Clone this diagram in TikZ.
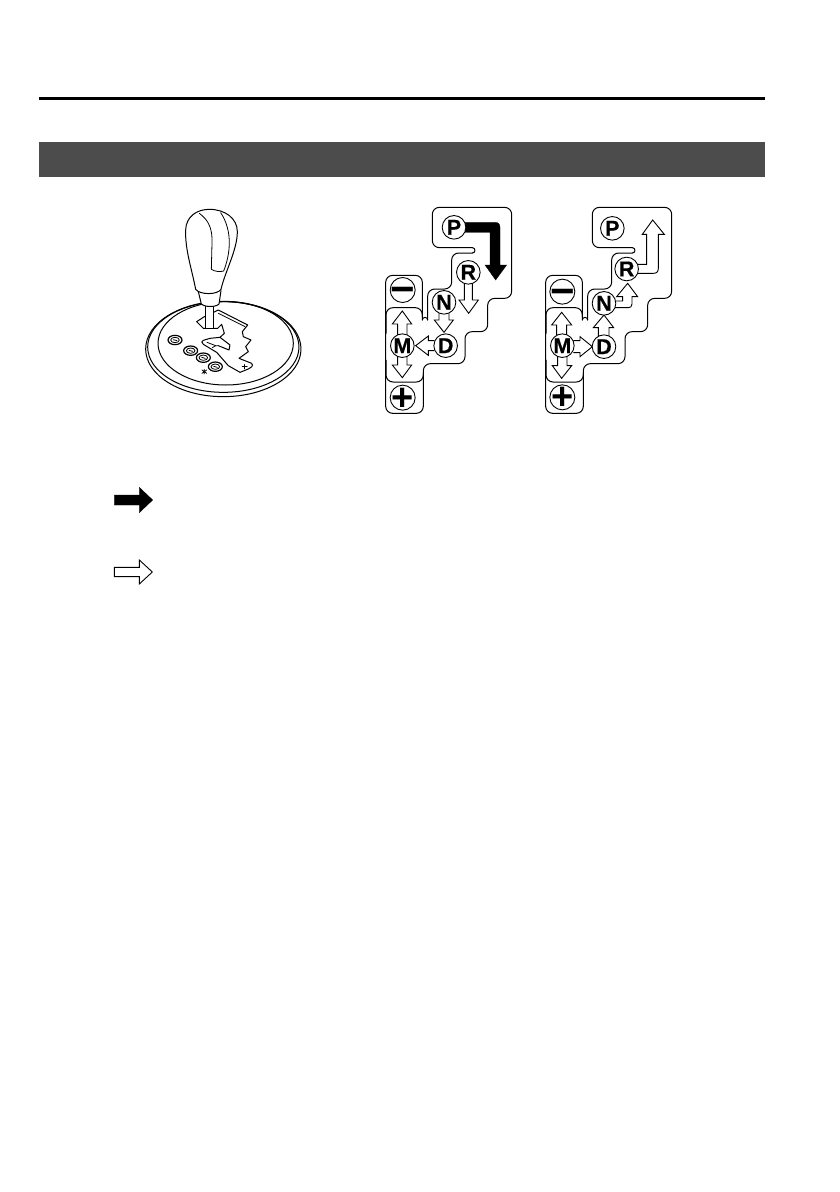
\documentclass[tikz,border=0pt]{standalone}
\usepackage{fontspec}
\setmainfont{Liberation Sans}
\newfontfamily\gatefont{Liberation Sans}[UprightFont=* Bold,FakeBold=0.5]
\tikzset{
  line/.style={draw=black,line width=1pt,line join=round,line cap=round},
  fine/.style={draw=black,line width=0.8pt,line join=round,line cap=round},
  hollow/.style={draw=black,fill=white,line width=0.9pt,line join=miter},
  solidarrow/.style={draw=black,fill=black,line width=0.3pt,line join=miter},
  zoomed/.style={x=0.33333pt,y=-0.33333pt},
  gatecircle/.style={circle,draw=black,fill=white,line width=0.9pt,minimum size=23.6pt,inner sep=0pt,font=\gatefont\fontsize{21.5}{21.5}\selectfont},
  symcircle/.style={circle,draw=black,fill=white,line width=0.9pt,minimum size=25pt,inner sep=0pt},
}
\newcommand{\gateoutline}{%
  \draw[line,rounded corners=7pt] (280,22) -- (410,22) -- (410,295) -- (338,295) -- (338,395) -- (270,395) -- (270,491) -- (145,491) -- (145,640) -- (32,640) -- (32,226) -- (142,226) -- (142,360);
  \draw[line] (142,360) arc[start angle=180,end angle=360,radius=8];
  \draw[line,rounded corners=7pt] (158,360) -- (158,267) -- (230,267) -- (230,159) -- (292,159);
  \draw[line] (292,159) arc[start angle=90,end angle=-90,radius=8];
  \draw[line,rounded corners=7pt] (292,143) -- (172,143) -- (172,22) -- (280,22);
  \draw[line,rounded corners=7pt] (33,400) -- (33,323) -- (142,323) -- (142,350);
  \draw[line,rounded corners=7pt] (33,480) -- (33,546) -- (145,546) -- (145,520);
}
\begin{document}
\begin{tikzpicture}[x=1pt,y=-1pt]
\useasboundingbox (0,0) rectangle (839,1192);
\fill[white] (0,0) rectangle (839,1192);
% header
\fill[black] (39,97) rectangle (765,100.3);
\fill[black!70] (39,141.7) rectangle (765,177);

% shifter
\begin{scope}[shift={(130,200)},zoomed]
  \draw[line] (280,447) ellipse[x radius=233,y radius=143];
  \draw[line] (280,441) ellipse[x radius=227,y radius=136];
  \draw[line] (287,430) ellipse[x radius=203,y radius=125];
  \foreach \bx/\by in {135/420,182/452,220/473,256/500}{
    \draw[line,line width=1.2pt] (\bx,\by) ellipse[x radius=21,y radius=14];
    \draw[fine] (\bx,\by) ellipse[x radius=13,y radius=8];
    \draw[fine] (\bx-5,\by-1) -- (\bx+6,\by+2);
  }
  \draw[fine] (216,510) -- (230,520) (230,510) -- (216,520) (223,508) -- (223,522);
\end{scope}
\begin{scope}[shift={(185,295)},zoomed]
  % slot
  \draw[line,fill=white] (35,80) -- (58,65) -- (100,45) -- (188,90) -- (172,110) -- (175,125) -- (198,135) -- (182,155) -- (190,170) -- (162,190) -- (200,205) .. controls (206,212) and (198,220) .. (190,222) -- (165,232) -- (130,212) -- (95,172) -- (55,148) .. controls (48,143) and (50,138) .. (55,136) -- (75,130) -- (105,127) -- (135,150) -- (132,165) -- (100,152);
  \draw[line] (105,127) -- (118,115) -- (110,88) -- (98,100) -- (55,100) -- (35,80);
  \draw[fine] (100,55) -- (180,95);
  \draw[fine] (66,142) -- (92,152) -- (100,152);
  \draw[fine] (92,152) -- (82,158);
  \draw[line,line width=1.3pt] (172,215) -- (186,215) (179,209) -- (179,221);
\end{scope}
\begin{scope}[shift={(130,200)},zoomed]
  % shaft, collar, knob
  \draw[line,fill=white] (227,315) -- (227,385) -- (250,385) -- (250,315);
  \draw[line,fill=white] (205,275) -- (214,312) .. controls (225,322) and (258,322) .. (267,312) -- (273,272);
  \draw[line,fill=white] (197,268) .. controls (185,205) and (165,150) .. (167,90) .. controls (168,50) and (200,28) .. (238,28) .. controls (285,28) and (322,55) .. (322,95) .. controls (322,150) and (285,215) .. (273,268) .. controls (262,285) and (210,285) .. (197,268) -- cycle;
  \draw[fine] (208,40) .. controls (235,60) and (248,85) .. (246,130) -- (244,208) .. controls (255,215) and (270,216) .. (281,213) .. controls (300,165) and (310,95) .. (272,38);
\end{scope}

% left gate
\begin{scope}[shift={(375,200)},zoomed]
  \gateoutline
  \draw[solidarrow] (265,67) -- (360,67) .. controls (370,67) and (375,72) .. (375,82) -- (375,195) -- (395,195) -- (362,240) -- (330,195) -- (345,195) -- (345,97) -- (265,97) -- cycle;
  \draw[hollow] (268,250) -- (268,300) -- (252,300) -- (281,340) -- (310,300) -- (292,300) -- (292,250);
  \draw[hollow] (192,340) -- (192,360) -- (178,360) -- (207,397) -- (235,360) -- (222,360) -- (222,340);
  \draw[hollow] (178,422) -- (160,422) -- (160,408) -- (122,437) -- (160,466) -- (160,452) -- (178,452);
  \draw[hollow] (68,405) -- (68,372) -- (52,372) -- (82,333) -- (110,372) -- (96,372) -- (96,405);
  \draw[hollow] (68,470) -- (68,495) -- (52,495) -- (82,533) -- (110,495) -- (96,495) -- (96,470);
  \node[gatecircle] (lp) at (237,82) {P};
  \node[gatecircle] (lr) at (280,217) {R};
  \node[gatecircle] (ln) at (207,307) {N};
  \node[gatecircle] (ld) at (212,437) {D};
  \node[gatecircle] (lm) at (82,437) {M};
  \node[symcircle] (lminus) at (83,270) {\raisebox{-13.5pt}[0pt][0pt]{\bfseries\fontsize{42}{42}\selectfont −}};
  \node[symcircle] (lplus) at (83,593) {\raisebox{-12.5pt}[0pt][0pt]{\bfseries\fontsize{38}{38}\selectfont +}};
\end{scope}

% right gate
\begin{scope}[shift={(535,200)},zoomed]
  \gateoutline
  \draw[hollow] (190,410) -- (190,383) -- (175,383) -- (207,345) -- (236,383) -- (222,383) -- (222,410);
  \draw[hollow] (115,422) -- (135,422) -- (135,410) -- (172,440) -- (135,470) -- (135,458) -- (115,458);
  \draw[hollow] (65,405) -- (65,375) -- (50,375) -- (80,337) -- (110,375) -- (95,375) -- (95,405);
  \draw[hollow] (68,470) -- (68,497) -- (52,497) -- (80,535) -- (110,497) -- (96,497) -- (96,470);
  \draw[hollow] (240,303) -- (263,303) -- (263,290) -- (245,290) -- (278,250) -- (308,290) -- (291,290) -- (291,312) .. controls (291,320) and (286,323) .. (280,323) -- (240,323);
  \draw[hollow] (305,193) -- (335,193) -- (335,103) -- (322,103) -- (353,60) -- (388,103) -- (370,103) -- (370,205) .. controls (370,215) and (365,220) .. (355,220) -- (305,220);
  \node[gatecircle] (rp) at (232,85) {P};
  \node[gatecircle] (rr) at (275,207) {R};
  \node[gatecircle] (rn) at (207,310) {N};
  \node[gatecircle] (rd) at (207,440) {D};
  \node[gatecircle] (rm) at (82,437) {M};
  \node[symcircle] (rminus) at (82,275) {\raisebox{-13.5pt}[0pt][0pt]{\bfseries\fontsize{42}{42}\selectfont −}};
  \node[symcircle] (rplus) at (82,592) {\raisebox{-12.5pt}[0pt][0pt]{\bfseries\fontsize{38}{38}\selectfont +}};
\end{scope}

% legend
\begin{scope}[shift={(100,480)},zoomed]
  \draw[solidarrow] (43,45) -- (118,45) -- (118,22) -- (158,60) -- (118,98) -- (118,75) -- (43,75) -- cycle;
  \draw[hollow] (43,262) -- (118,262) -- (118,240) -- (157,276) -- (118,312) -- (118,290) -- (43,290) -- cycle;
\end{scope}
\end{tikzpicture}
\end{document}
